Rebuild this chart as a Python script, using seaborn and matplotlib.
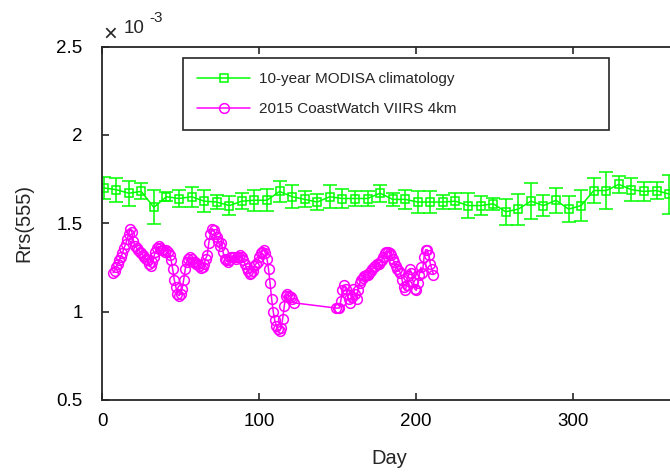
import matplotlib
matplotlib.use("Agg")
import numpy as np
import seaborn as sns
from matplotlib import pyplot as plt
from matplotlib.ticker import FuncFormatter

# 10-year MODISA 8-day climatology, Rrs(555) in units of 1e-3 sr^-1
clim_day = [1, 9, 17, 25, 33, 41, 49, 57, 65, 73, 81, 89, 97, 105, 113, 121,
            129, 137, 145, 153, 161, 169, 177, 185, 193, 201, 209, 217, 225,
            233, 241, 249, 257, 265, 273, 281, 289, 297, 305, 313, 321, 329,
            337, 345, 353, 361]
clim_rrs = [1.70, 1.69, 1.67, 1.68, 1.59, 1.65, 1.64, 1.65, 1.625, 1.62, 1.60,
            1.625, 1.63, 1.63, 1.68, 1.65, 1.635, 1.62, 1.65, 1.64, 1.64, 1.64,
            1.67, 1.635, 1.635, 1.62, 1.62, 1.62, 1.625, 1.60, 1.60, 1.61,
            1.565, 1.58, 1.625, 1.60, 1.63, 1.58, 1.60, 1.685, 1.685, 1.72,
            1.69, 1.68, 1.685, 1.665]
clim_err = [0.063, 0.068, 0.07, 0.045, 0.097, 0.025, 0.05, 0.057, 0.063, 0.04,
            0.055, 0.047, 0.06, 0.063, 0.057, 0.066, 0.045, 0.047, 0.066, 0.052,
            0.042, 0.042, 0.049, 0.038, 0.054, 0.061, 0.061, 0.042, 0.047,
            0.071, 0.052, 0.033, 0.075, 0.088, 0.10, 0.06, 0.072, 0.075, 0.089,
            0.073, 0.104, 0.05, 0.066, 0.052, 0.05, 0.11]

# 2015 CoastWatch VIIRS 4km daily values, same units
viirs_day = [7, 8, 9, 10, 11, 12, 13, 14, 15, 16, 17, 18, 19, 20, 21, 22, 23,
             24, 25, 26, 27, 28, 29, 30, 31, 32, 33, 34, 35, 36, 37, 38, 39, 40,
             41, 42, 43, 44, 45, 46, 47, 48, 49, 50, 51, 52, 53, 54, 55, 56, 57,
             58, 59, 60, 61, 62, 63, 64, 65, 66, 67, 68, 69, 70, 71, 72, 73, 74,
             75, 76, 77, 78, 79, 80, 81, 82, 83, 84, 85, 86, 87, 88, 89, 90, 91,
             92, 93, 94, 95, 96, 97, 98, 99, 100, 101, 102, 103, 104, 105, 106,
             107, 108, 109, 110, 111, 112, 113, 114, 115, 116, 117, 118, 119,
             120, 121, 122,
             149, 150, 151, 152, 153, 154, 155, 156, 157, 158, 159, 160, 161,
             162, 163, 164, 165, 166, 167, 168, 169, 170, 171, 172, 173, 174,
             175, 176, 177, 178, 179, 180, 181, 182, 183, 184, 185, 186, 187,
             188, 189, 190, 191, 192, 193, 194, 195, 196, 197, 198, 199, 200,
             201, 202, 203, 204, 205, 206, 207, 208, 209, 210, 211]
viirs_rrs = [1.22, 1.23, 1.25, 1.27, 1.29, 1.31, 1.33, 1.36, 1.38, 1.41, 1.44,
             1.47, 1.45, 1.40, 1.37, 1.36, 1.35, 1.34, 1.33, 1.32, 1.31, 1.30,
             1.29, 1.27, 1.26, 1.28, 1.31, 1.34, 1.36, 1.37, 1.36, 1.35, 1.35,
             1.34, 1.35, 1.34, 1.32, 1.29, 1.24, 1.18, 1.14, 1.10, 1.09, 1.10,
             1.13, 1.18, 1.24, 1.28,
             1.30, 1.31, 1.30, 1.28, 1.28, 1.27, 1.27, 1.26, 1.245, 1.25, 1.27,
             1.30, 1.32, 1.39, 1.44, 1.47, 1.46, 1.44, 1.42, 1.40, 1.37, 1.39,
             1.34, 1.30, 1.29, 1.28, 1.29, 1.31, 1.31, 1.31, 1.30, 1.31, 1.31,
             1.32, 1.31, 1.29, 1.27, 1.245, 1.23, 1.215, 1.22, 1.23, 1.26, 1.27,
             1.28, 1.31, 1.33, 1.34, 1.35, 1.33,
             1.30, 1.24, 1.16, 1.07, 1.00, 0.95, 0.92, 0.90, 0.89, 0.91, 0.96,
             1.03, 1.09, 1.10, 1.09, 1.08, 1.07, 1.05,
             1.02, 1.02, 1.02, 1.06, 1.12, 1.15, 1.13, 1.10, 1.07, 1.05, 1.08,
             1.13, 1.10, 1.07, 1.12, 1.16, 1.18, 1.19, 1.20, 1.21, 1.21, 1.22,
             1.23, 1.24, 1.25, 1.26, 1.27, 1.27, 1.28, 1.29, 1.31, 1.33, 1.34,
             1.34, 1.33, 1.32, 1.30, 1.28, 1.26, 1.24, 1.23, 1.22, 1.18, 1.14,
             1.12, 1.15, 1.20, 1.24, 1.22, 1.17, 1.13, 1.12, 1.16, 1.21, 1.25,
             1.22, 1.31, 1.35, 1.35, 1.32, 1.27, 1.24, 1.21]

labels = ['10-year MODISA climatology', '2015 CoastWatch VIIRS 4km']
green = (0.0, 1.0, 0.0)
magenta = (1.0, 0.0, 1.0)
dark = '#262626'

sns.set_style("ticks")
plt.rcParams['font.family'] = ['Liberation Sans', 'DejaVu Sans']

fig = plt.figure(figsize=(6.7, 4.75), dpi=100)
# axes run past the right edge of the figure, as in the cropped original
ax = fig.add_axes([102 / 670, 75 / 475, 575 / 670, 353.5 / 475])

ax.errorbar(clim_day, clim_rrs, yerr=clim_err, fmt='none', ecolor=green,
            elinewidth=1.1, capsize=5, capthick=1.1, zorder=2)
sns.lineplot(x=clim_day, y=clim_rrs, ax=ax, color=green, marker='s',
             markersize=6, markerfacecolor='none', markeredgecolor=green,
             markeredgewidth=1.1, linewidth=1.1, errorbar=None, label=labels[0])
sns.lineplot(x=viirs_day, y=viirs_rrs, ax=ax, color=magenta, marker='o',
             markersize=7, markerfacecolor='none', markeredgecolor=magenta,
             markeredgewidth=1.1, linewidth=1.1, errorbar=None, label=labels[1])

ax.set_xlim(0, 366)
ax.set_ylim(0.5, 2.5)
ax.set_xticks([0, 100, 200, 300])
ax.set_yticks([0.5, 1, 1.5, 2, 2.5])
ax.yaxis.set_major_formatter(FuncFormatter(lambda v, p: '%g' % v))

for s in ax.spines.values():
    s.set_color(dark)
    s.set_linewidth(1.3)
ax.tick_params(direction='in', length=5, width=1.2, top=True, right=True,
               labelsize=13.5, colors=dark, labelcolor='black')
ax.tick_params(axis='y', pad=14)
ax.tick_params(axis='x', pad=9)

ax.set_xlabel('Day', fontsize=14.5)
ax.set_ylabel('Rrs(555)', fontsize=14.5)
ax.xaxis.set_label_coords(0.5, -0.14)
ax.yaxis.set_label_coords(-0.12, 0.5)

# exponent note like MATLAB
fig.text(103 / 670, 1 - 41 / 475, '\u00d7', fontsize=17, va='baseline')
fig.text(124 / 670, 1 - 33 / 475, '10', fontsize=13.5, va='baseline')
fig.text(149 / 670, 1 - 22 / 475, '-3', fontsize=11, va='baseline')

leg = ax.legend(loc='upper left', bbox_to_anchor=(0.141, 0.967, 0.741, 0.0),
                mode='expand', ncol=1, frameon=True, fancybox=False,
                fontsize=11, handlelength=3.5, handletextpad=0.6,
                borderpad=0.9, labelspacing=1.05, borderaxespad=0,
                numpoints=1)
leg.get_frame().set_edgecolor(dark)
leg.get_frame().set_linewidth(1.2)
leg.get_frame().set_alpha(1)

fig.savefig('out.png', dpi=100)
